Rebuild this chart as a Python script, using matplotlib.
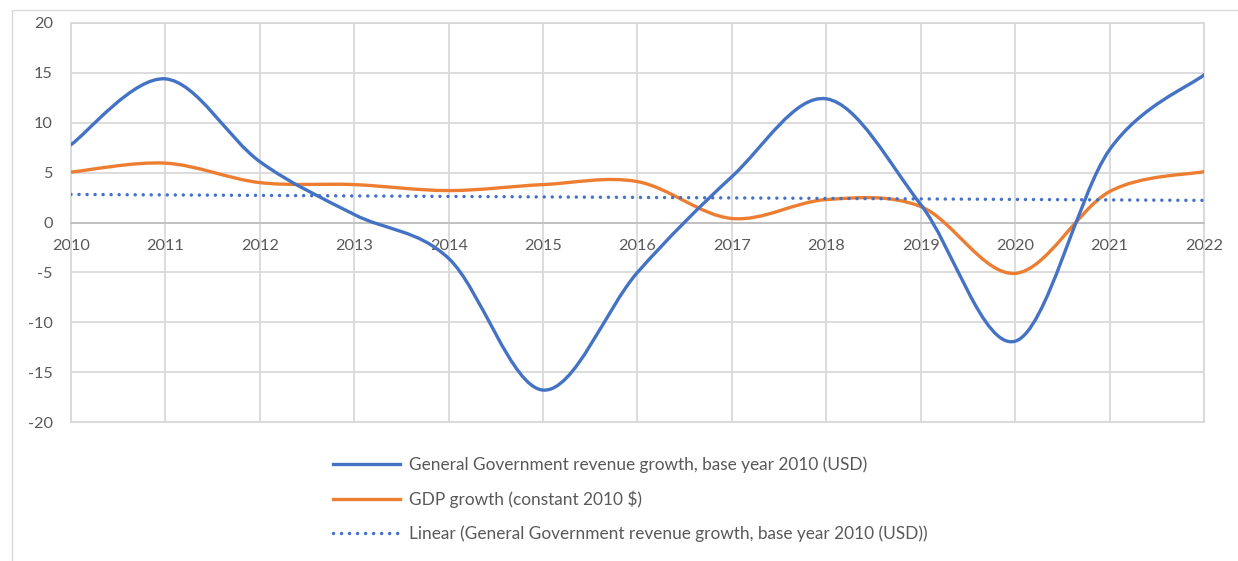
import numpy as np
import matplotlib.pyplot as plt
from matplotlib.path import Path
from matplotlib.patches import PathPatch, Rectangle
from matplotlib.lines import Line2D

plt.rcParams['font.family'] = ['Lato', 'DejaVu Sans']

years = list(range(2010, 2023))
revenue_growth = [7.8, 14.4, 6.1, 0.8, -3.6, -16.8, -5.0, 4.6, 12.4, 1.8, -11.9, 7.3, 14.8]
gdp_growth = [5.05, 5.95, 4.0, 3.8, 3.2, 3.8, 4.1, 0.4, 2.3, 1.6, -5.1, 3.1, 5.1]

rev_label = "General Government revenue growth, base year 2010 (USD)"
gdp_label = "GDP growth (constant 2010 $)"
trend_label = "Linear (General Government revenue growth, base year 2010 (USD))"

BLUE = "#4472C4"
ORANGE = "#ED7D31"
GRID = "#D9D9D9"
TXT = "#595959"


def smooth_path(xs, ys):
    # excel-style smoothed line: cubic bezier through each point (catmull-rom tangents)
    pts = np.column_stack([xs, ys]).astype(float)
    n = len(pts)
    verts = [pts[0]]
    codes = [Path.MOVETO]
    for i in range(n - 1):
        p0 = pts[max(i - 1, 0)]
        p1 = pts[i]
        p2 = pts[i + 1]
        p3 = pts[min(i + 2, n - 1)]
        c1 = p1 + (p2 - p0) / 6.0
        c2 = p2 - (p3 - p1) / 6.0
        verts += [c1, c2, p2]
        codes += [Path.CURVE4] * 3
    return Path(verts, codes)


fig = plt.figure(figsize=(12.38, 5.61), dpi=100)
ax = fig.add_axes([71 / 1238, 1 - 422 / 561, (1204 - 71) / 1238, (422 - 23) / 561])

# outer chart border
fig.patches.append(Rectangle((12 / 1238, -0.1), 1.2, 1.1 - 10 / 561, transform=fig.transFigure,
                             fill=False, edgecolor=GRID, lw=1.0))

ax.add_patch(PathPatch(smooth_path(years, revenue_growth), fill=False, edgecolor=BLUE,
                       lw=2.4, capstyle='round', joinstyle='round', zorder=4))
ax.add_patch(PathPatch(smooth_path(years, gdp_growth), fill=False, edgecolor=ORANGE,
                       lw=2.4, capstyle='round', joinstyle='round', zorder=3))

# linear trendline of revenue growth
slope, intercept = np.polyfit(years, revenue_growth, 1)
trend = [slope * years[0] + intercept, slope * years[-1] + intercept]
ax.plot([years[0], years[-1]], trend, color=BLUE, lw=2.5, dashes=(0.01, 2.3),
        dash_capstyle='round', zorder=5)

ax.set_xlim(2010, 2022)
ax.set_ylim(-20, 20)
ax.set_yticks(range(-20, 21, 5))
ax.set_yticklabels([str(v) for v in range(-20, 21, 5)])
ax.set_xticks(years)
ax.set_xticklabels([str(y) for y in years])

ax.grid(True, color=GRID, lw=1.3, zorder=0)
ax.set_axisbelow(True)
for side in ['left', 'right', 'top']:
    ax.spines[side].set_color(GRID)
    ax.spines[side].set_linewidth(1.3)
ax.spines['bottom'].set_position(('data', 0))
ax.spines['bottom'].set_color("#BFBFBF")
ax.spines['bottom'].set_linewidth(1.3)
ax.axhline(-20, color=GRID, lw=1.3, clip_on=False, zorder=1)

ax.tick_params(axis='both', length=0, labelsize=11.7, labelcolor=TXT)
ax.tick_params(axis='y', pad=13)
ax.tick_params(axis='x', pad=12)

handles = [
    Line2D([], [], color=BLUE, lw=2.4),
    Line2D([], [], color=ORANGE, lw=2.4),
    Line2D([], [], color=BLUE, lw=2.5, dashes=(0.01, 2.3), dash_capstyle='round'),
]
leg = fig.legend(handles, [rev_label, gdp_label, trend_label], loc='upper left',
                 bbox_to_anchor=(317 / 1238, 1 - 441 / 561), frameon=False,
                 fontsize=12.4, handlelength=3.9, handletextpad=0.55, labelspacing=1.0)
for t in leg.get_texts():
    t.set_color(TXT)

fig.savefig("out.png", dpi=100)
